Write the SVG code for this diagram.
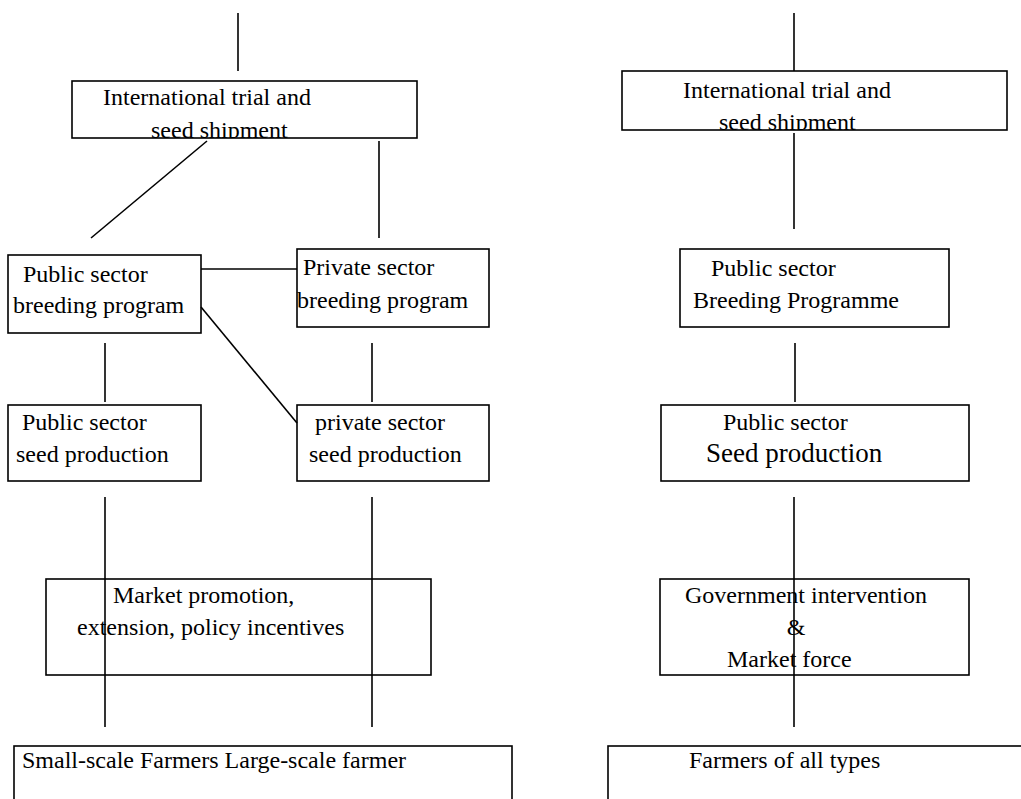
<svg xmlns="http://www.w3.org/2000/svg" width="1021" height="799" viewBox="0 0 1021 799">
<style>
.box{fill:#fff;stroke:#000;stroke-width:1.6}
.ln{stroke:#000;stroke-width:1.6;fill:none}
text{font-family:"Liberation Serif","Times New Roman",serif;font-size:24px;fill:#000}
</style>
<defs>
<clipPath id="c1"><rect x="72" y="81" width="345" height="57"/></clipPath>
<clipPath id="c2"><rect x="622" y="71" width="385" height="59"/></clipPath>
</defs>
<rect width="1021" height="799" fill="#fff"/>
<g id="intl-left">
<rect class="box" x="72" y="81" width="345" height="57"/>
<g clip-path="url(#c1)"><text x="103" y="105">International trial and</text><text x="151" y="138">seed shipment</text></g>
</g>
<g id="pub-breed-left">
<rect class="box" x="8" y="255" width="193" height="78"/>
<text x="23" y="282">Public sector</text><text x="13" y="313">breeding program</text>
</g>
<g id="priv-breed">
<rect class="box" x="297" y="249" width="192" height="78"/>
<text x="303" y="275">Private sector</text><text x="297" y="308">breeding program</text>
</g>
<g id="pub-seed-left">
<rect class="box" x="8" y="405" width="193" height="76"/>
<text x="22" y="430">Public sector</text><text x="16" y="462">seed production</text>
</g>
<g id="priv-seed">
<rect class="box" x="297" y="405" width="192" height="76"/>
<text x="315" y="430">private sector</text><text x="309" y="462">seed production</text>
</g>
<g id="market">
<rect class="box" x="46" y="579" width="385" height="96"/>
<text x="113" y="603">Market promotion,</text><text x="77" y="635">extension, policy incentives</text>
</g>
<g id="farmers-left">
<rect class="box" x="14" y="746" width="498" height="80"/>
<text x="22" y="768">Small-scale Farmers Large-scale farmer</text>
</g>
<g id="intl-right">
<rect class="box" x="622" y="71" width="385" height="59"/>
<g clip-path="url(#c2)"><text x="683" y="98">International trial and</text><text x="719" y="130">seed shipment</text></g>
</g>
<g id="pub-breed-right">
<rect class="box" x="680" y="249" width="269" height="78"/>
<text x="711" y="276">Public sector</text><text x="693" y="308">Breeding Programme</text>
</g>
<g id="pub-seed-right">
<rect class="box" x="661" y="405" width="308" height="76"/>
<text x="723" y="430">Public sector</text><text x="706" y="462" style="font-size:27px">Seed production</text>
</g>
<g id="gov">
<rect class="box" x="660" y="579" width="309" height="96"/>
<text x="685" y="603">Government intervention</text><text x="796" y="635" text-anchor="middle">&amp;</text><text x="727" y="667">Market force</text>
</g>
<g id="farmers-right">
<rect class="box" x="608" y="746" width="430" height="80"/>
<text x="689" y="768">Farmers of all types</text>
</g>
<g id="connectors">
<line class="ln" x1="238" y1="13" x2="238" y2="71"/>
<line class="ln" x1="207" y1="141" x2="91" y2="238"/>
<line class="ln" x1="379" y1="141" x2="379" y2="238"/>
<line class="ln" x1="201" y1="269" x2="297" y2="269"/>
<line class="ln" x1="201" y1="307" x2="297" y2="423"/>
<line class="ln" x1="105" y1="343" x2="105" y2="402"/>
<line class="ln" x1="372" y1="343" x2="372" y2="402"/>
<line class="ln" x1="105" y1="497" x2="105" y2="727"/>
<line class="ln" x1="372" y1="497" x2="372" y2="727"/>
<line class="ln" x1="794" y1="13" x2="794" y2="71"/>
<line class="ln" x1="794" y1="133" x2="794" y2="229"/>
<line class="ln" x1="795" y1="343" x2="795" y2="402"/>
<line class="ln" x1="794" y1="497" x2="794" y2="727"/>
</g>
</svg>
